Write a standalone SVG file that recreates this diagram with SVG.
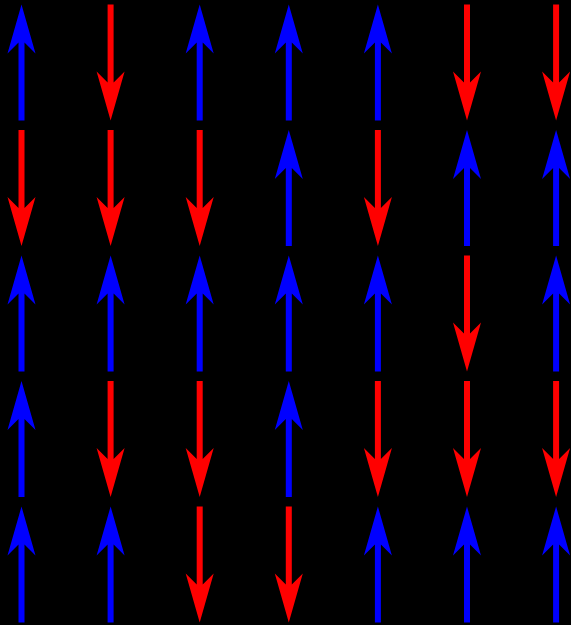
<svg xmlns="http://www.w3.org/2000/svg" xmlns:xlink="http://www.w3.org/1999/xlink" width="571" height="625" viewBox="0 0 571 625">
<style>
.up{fill:#0000ff}
.dn{fill:#ff0000}
</style>
<defs>
<path id="a" d="M0,-58 L14,-9 L3,-20 L3,58 L-3,58 L-3,-20 L-14,-9 Z"/>
</defs>
<rect width="571" height="625" fill="#000"/>
<g id="connectors"></g>
<g id="r1">
<g id="n11"><use xlink:href="#a" class="up" transform="translate(21.5,62.5)"/></g>
<g id="n12"><use xlink:href="#a" class="dn" transform="translate(110.6,62.5) rotate(180)"/></g>
<g id="n13"><use xlink:href="#a" class="up" transform="translate(199.7,62.5)"/></g>
<g id="n14"><use xlink:href="#a" class="up" transform="translate(288.8,62.5)"/></g>
<g id="n15"><use xlink:href="#a" class="up" transform="translate(377.9,62.5)"/></g>
<g id="n16"><use xlink:href="#a" class="dn" transform="translate(467,62.5) rotate(180)"/></g>
<g id="n17"><use xlink:href="#a" class="dn" transform="translate(556.1,62.5) rotate(180)"/></g>
</g>
<g id="r2">
<g id="n21"><use xlink:href="#a" class="dn" transform="translate(21.5,188) rotate(180)"/></g>
<g id="n22"><use xlink:href="#a" class="dn" transform="translate(110.6,188) rotate(180)"/></g>
<g id="n23"><use xlink:href="#a" class="dn" transform="translate(199.7,188) rotate(180)"/></g>
<g id="n24"><use xlink:href="#a" class="up" transform="translate(288.8,188)"/></g>
<g id="n25"><use xlink:href="#a" class="dn" transform="translate(377.9,188) rotate(180)"/></g>
<g id="n26"><use xlink:href="#a" class="up" transform="translate(467,188)"/></g>
<g id="n27"><use xlink:href="#a" class="up" transform="translate(556.1,188)"/></g>
</g>
<g id="r3">
<g id="n31"><use xlink:href="#a" class="up" transform="translate(21.5,313.5)"/></g>
<g id="n32"><use xlink:href="#a" class="up" transform="translate(110.6,313.5)"/></g>
<g id="n33"><use xlink:href="#a" class="up" transform="translate(199.7,313.5)"/></g>
<g id="n34"><use xlink:href="#a" class="up" transform="translate(288.8,313.5)"/></g>
<g id="n35"><use xlink:href="#a" class="up" transform="translate(377.9,313.5)"/></g>
<g id="n36"><use xlink:href="#a" class="dn" transform="translate(467,313.5) rotate(180)"/></g>
<g id="n37"><use xlink:href="#a" class="up" transform="translate(556.1,313.5)"/></g>
</g>
<g id="r4">
<g id="n41"><use xlink:href="#a" class="up" transform="translate(21.5,439)"/></g>
<g id="n42"><use xlink:href="#a" class="dn" transform="translate(110.6,439) rotate(180)"/></g>
<g id="n43"><use xlink:href="#a" class="dn" transform="translate(199.7,439) rotate(180)"/></g>
<g id="n44"><use xlink:href="#a" class="up" transform="translate(288.8,439)"/></g>
<g id="n45"><use xlink:href="#a" class="dn" transform="translate(377.9,439) rotate(180)"/></g>
<g id="n46"><use xlink:href="#a" class="dn" transform="translate(467,439) rotate(180)"/></g>
<g id="n47"><use xlink:href="#a" class="dn" transform="translate(556.1,439) rotate(180)"/></g>
</g>
<g id="r5">
<g id="n51"><use xlink:href="#a" class="up" transform="translate(21.5,564.5)"/></g>
<g id="n52"><use xlink:href="#a" class="up" transform="translate(110.6,564.5)"/></g>
<g id="n53"><use xlink:href="#a" class="dn" transform="translate(199.7,564.5) rotate(180)"/></g>
<g id="n54"><use xlink:href="#a" class="dn" transform="translate(288.8,564.5) rotate(180)"/></g>
<g id="n55"><use xlink:href="#a" class="up" transform="translate(377.9,564.5)"/></g>
<g id="n56"><use xlink:href="#a" class="up" transform="translate(467,564.5)"/></g>
<g id="n57"><use xlink:href="#a" class="up" transform="translate(556.1,564.5)"/></g>
</g>
</svg>
